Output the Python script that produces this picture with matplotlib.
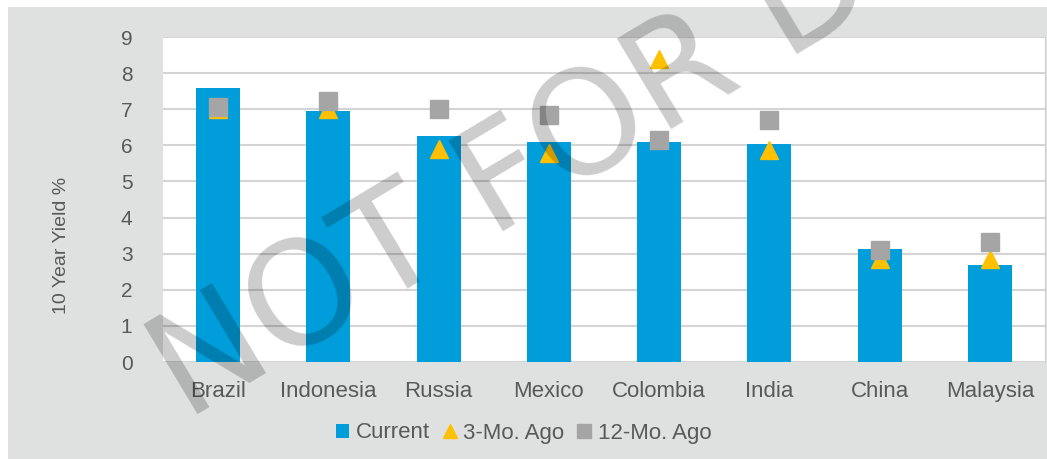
import matplotlib
matplotlib.use("Agg")
import matplotlib.pyplot as plt
from matplotlib.patches import Rectangle
import numpy as np

plt.rcParams['font.family'] = ['Liberation Sans', 'DejaVu Sans']

countries = ["Brazil", "Indonesia", "Russia", "Mexico", "Colombia", "India", "China", "Malaysia"]
current = [7.6, 6.95, 6.25, 6.1, 6.08, 6.03, 3.13, 2.68]
ago_3m = [7.0, 7.0, 5.9, 5.78, 8.4, 5.87, 2.85, 2.85]
ago_12m = [7.05, 7.22, 7.0, 6.85, 6.15, 6.7, 3.1, 3.32]

blue = "#009ddb"
orange = "#ffc000"
grey = "#a5a5a5"
txt = "#595959"

fig = plt.figure(figsize=(10.47, 4.59), dpi=100, facecolor="#dfe0e0")
# white margin strips at top and left
fig.patches.append(Rectangle((0, 1 - 7 / 459), 1, 7 / 459, transform=fig.transFigure,
                             facecolor="white", edgecolor="none"))
fig.patches.append(Rectangle((0, 0), 8 / 1047, 1, transform=fig.transFigure,
                             facecolor="white", edgecolor="none"))

ax = fig.add_axes([163 / 1047, 1 - 362 / 459, 882 / 1047, 325 / 459])
ax.set_facecolor("white")
x = np.arange(len(countries))

b = ax.bar(x, current, width=0.4, color=blue, zorder=2, label="Current")
t, = ax.plot(x, ago_3m, linestyle="none", marker="^", markersize=12.5, color=orange,
             zorder=3, label="3-Mo. Ago")
s, = ax.plot(x, ago_12m, linestyle="none", marker="s", markersize=13.5, color=grey,
             zorder=4, label="12-Mo. Ago")

ax.set_xlim(-0.5, len(countries) - 0.5)
ax.set_ylim(0, 9)
ax.set_yticks(range(10))
ax.set_xticks(x)
ax.set_xticklabels(countries)
ax.tick_params(axis="both", length=0, colors=txt, labelsize=15)
ax.tick_params(axis="x", labelsize=16, pad=14)
ax.tick_params(axis="y", pad=22)
ax.grid(axis="y", color="#d4d4d4", linewidth=1.5, zorder=1)
for sp in ax.spines.values():
    sp.set_visible(False)
ax.spines["right"].set_visible(True)
ax.spines["right"].set_color("#cfcfcf")

fig.text(62 / 1047, 1 - 245 / 459, "10 Year Yield %", rotation=90, ha="center",
         va="center", color=txt, fontsize=14)

leg = fig.legend([b, t, s], ["Current", "3-Mo. Ago", "12-Mo. Ago"],
                 loc="center", bbox_to_anchor=(0.5, 1 - 433 / 459), ncol=3, frameon=False,
                 fontsize=16, handlelength=0.6, handleheight=0.6, handletextpad=0.3,
                 columnspacing=0.6, labelcolor=txt)
for h in leg.legend_handles[1:]:
    h.set_markersize(10)

fig.text(186 / 1047, 1 - 421 / 459, "NOT FOR DISTRIBUTION", rotation=31,
         rotation_mode="anchor", ha="left", va="baseline", fontsize=104,
         color="black", alpha=0.2, family="DejaVu Sans", zorder=10)

fig.savefig("out.png", dpi=100, facecolor=fig.get_facecolor())
